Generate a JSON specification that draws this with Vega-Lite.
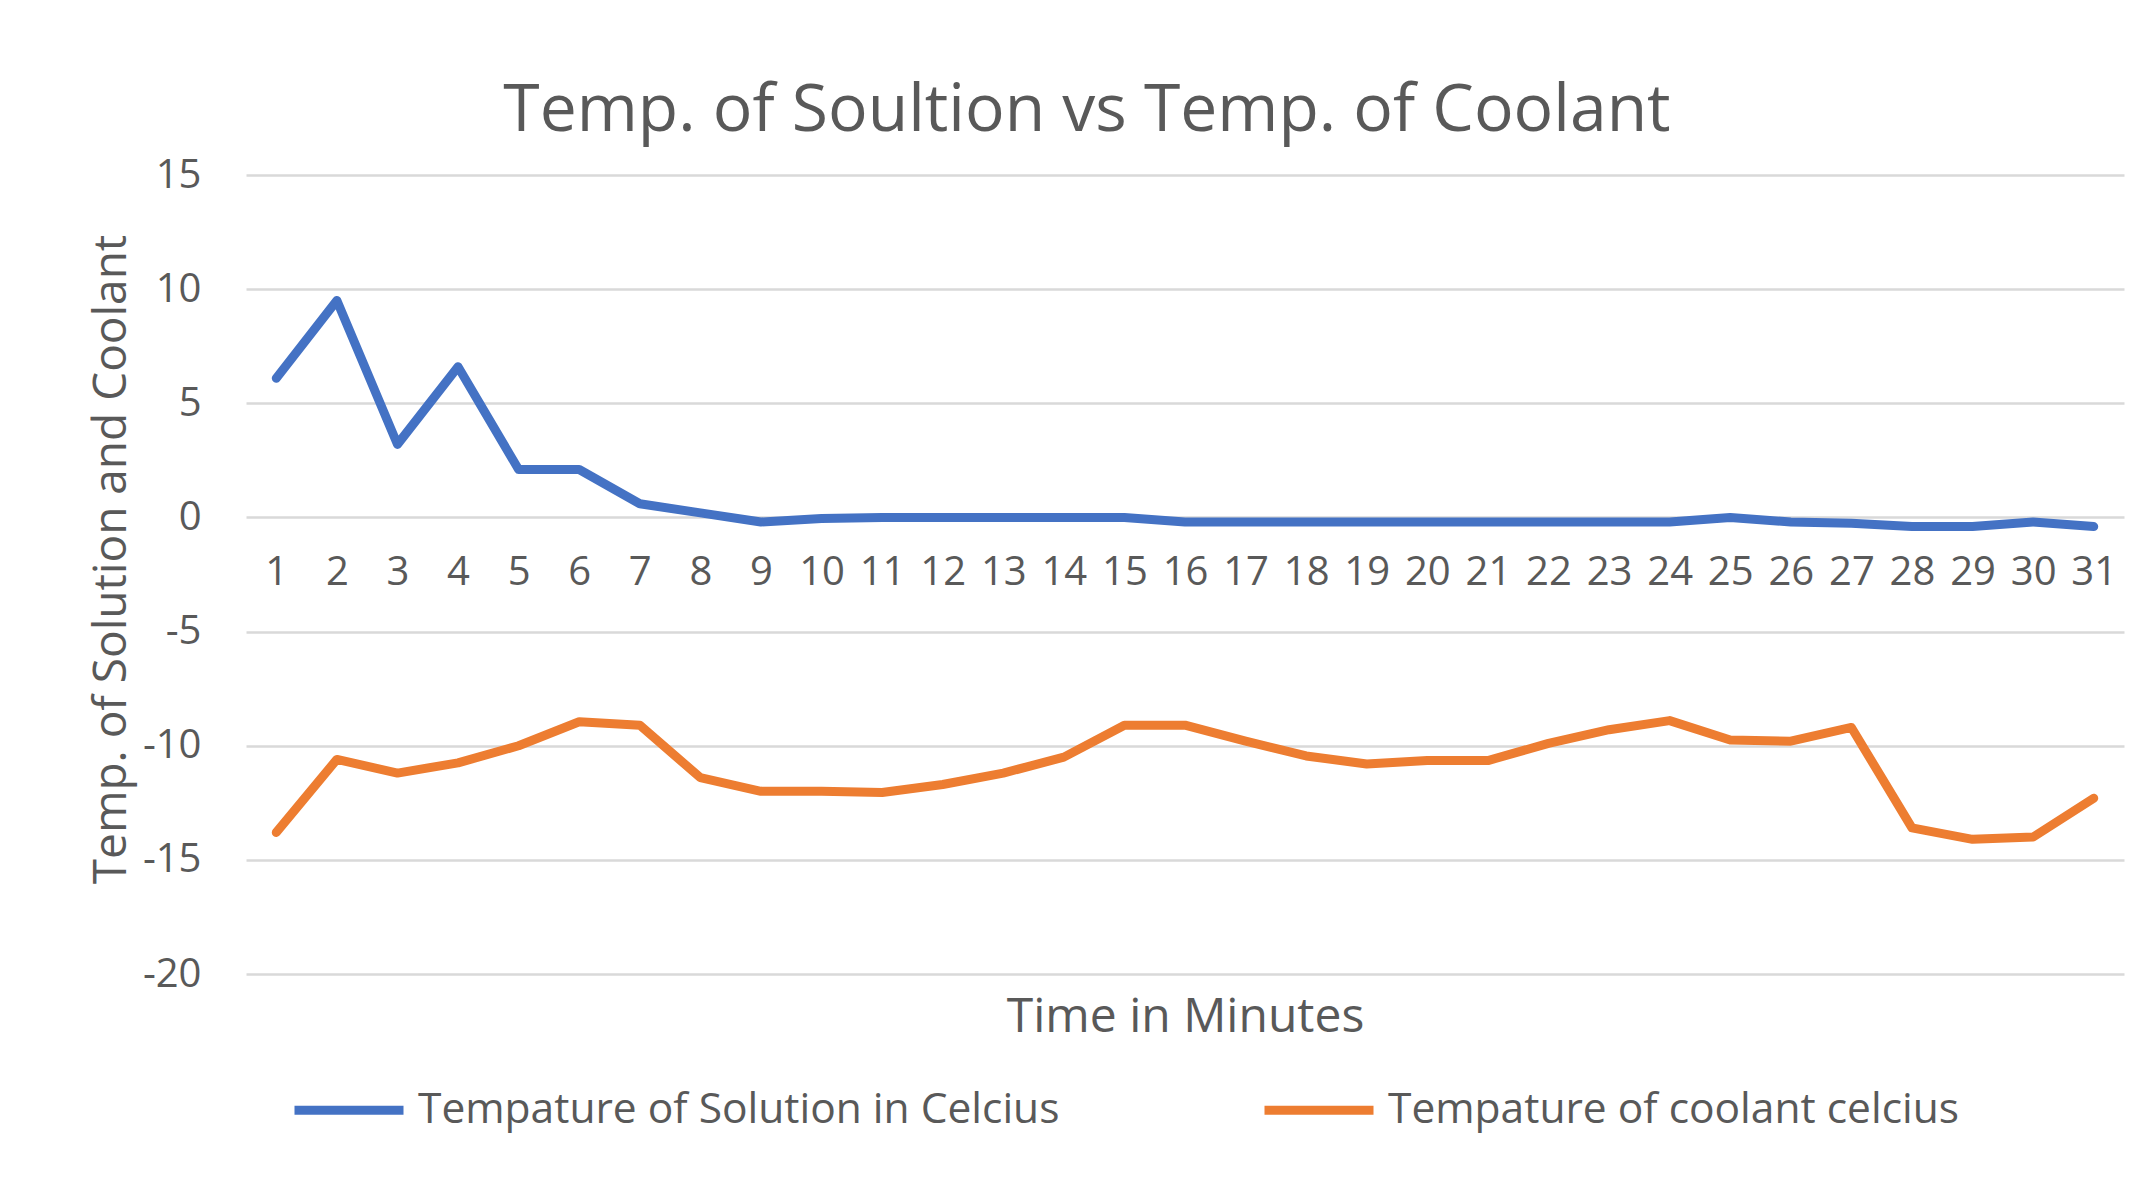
{
  "$schema": "https://vega.github.io/schema/vega-lite/v6.json",
  "autosize": "none",
  "width": 1878,
  "height": 799,
  "padding": {"left": 246, "top": 175, "right": 19, "bottom": 226},
  "background": "white",
  "config": {
    "view": {"stroke": null},
    "font": "Open Sans"
  },
  "title": {
    "text": "Temp. of Soultion vs Temp. of Coolant",
    "font": "Open Sans",
    "fontSize": 66,
    "fontWeight": "normal",
    "color": "#595959",
    "anchor": "middle",
    "baseline": "alphabetic",
    "offset": -42,
    "dx": -98
  },
  "data": {
    "values": [
      {"minute": 1, "series": "Tempature of Solution in Celcius", "temp": 6.1},
      {"minute": 2, "series": "Tempature of Solution in Celcius", "temp": 9.5},
      {"minute": 3, "series": "Tempature of Solution in Celcius", "temp": 3.2},
      {"minute": 4, "series": "Tempature of Solution in Celcius", "temp": 6.6},
      {"minute": 5, "series": "Tempature of Solution in Celcius", "temp": 2.1},
      {"minute": 6, "series": "Tempature of Solution in Celcius", "temp": 2.1},
      {"minute": 7, "series": "Tempature of Solution in Celcius", "temp": 0.6},
      {"minute": 8, "series": "Tempature of Solution in Celcius", "temp": 0.2},
      {"minute": 9, "series": "Tempature of Solution in Celcius", "temp": -0.2},
      {"minute": 10, "series": "Tempature of Solution in Celcius", "temp": -0.05},
      {"minute": 11, "series": "Tempature of Solution in Celcius", "temp": 0},
      {"minute": 12, "series": "Tempature of Solution in Celcius", "temp": 0},
      {"minute": 13, "series": "Tempature of Solution in Celcius", "temp": 0},
      {"minute": 14, "series": "Tempature of Solution in Celcius", "temp": 0},
      {"minute": 15, "series": "Tempature of Solution in Celcius", "temp": 0},
      {"minute": 16, "series": "Tempature of Solution in Celcius", "temp": -0.2},
      {"minute": 17, "series": "Tempature of Solution in Celcius", "temp": -0.2},
      {"minute": 18, "series": "Tempature of Solution in Celcius", "temp": -0.2},
      {"minute": 19, "series": "Tempature of Solution in Celcius", "temp": -0.2},
      {"minute": 20, "series": "Tempature of Solution in Celcius", "temp": -0.2},
      {"minute": 21, "series": "Tempature of Solution in Celcius", "temp": -0.2},
      {"minute": 22, "series": "Tempature of Solution in Celcius", "temp": -0.2},
      {"minute": 23, "series": "Tempature of Solution in Celcius", "temp": -0.2},
      {"minute": 24, "series": "Tempature of Solution in Celcius", "temp": -0.2},
      {"minute": 25, "series": "Tempature of Solution in Celcius", "temp": 0},
      {"minute": 26, "series": "Tempature of Solution in Celcius", "temp": -0.2},
      {"minute": 27, "series": "Tempature of Solution in Celcius", "temp": -0.25},
      {"minute": 28, "series": "Tempature of Solution in Celcius", "temp": -0.4},
      {"minute": 29, "series": "Tempature of Solution in Celcius", "temp": -0.4},
      {"minute": 30, "series": "Tempature of Solution in Celcius", "temp": -0.2},
      {"minute": 31, "series": "Tempature of Solution in Celcius", "temp": -0.4},
      {"minute": 1, "series": "Tempature of coolant celcius", "temp": -13.8},
      {"minute": 2, "series": "Tempature of coolant celcius", "temp": -10.6},
      {"minute": 3, "series": "Tempature of coolant celcius", "temp": -11.2},
      {"minute": 4, "series": "Tempature of coolant celcius", "temp": -10.75},
      {"minute": 5, "series": "Tempature of coolant celcius", "temp": -10.0},
      {"minute": 6, "series": "Tempature of coolant celcius", "temp": -8.95},
      {"minute": 7, "series": "Tempature of coolant celcius", "temp": -9.1},
      {"minute": 8, "series": "Tempature of coolant celcius", "temp": -11.4},
      {"minute": 9, "series": "Tempature of coolant celcius", "temp": -12.0},
      {"minute": 10, "series": "Tempature of coolant celcius", "temp": -12.0},
      {"minute": 11, "series": "Tempature of coolant celcius", "temp": -12.05},
      {"minute": 12, "series": "Tempature of coolant celcius", "temp": -11.7},
      {"minute": 13, "series": "Tempature of coolant celcius", "temp": -11.2},
      {"minute": 14, "series": "Tempature of coolant celcius", "temp": -10.5},
      {"minute": 15, "series": "Tempature of coolant celcius", "temp": -9.1},
      {"minute": 16, "series": "Tempature of coolant celcius", "temp": -9.1},
      {"minute": 17, "series": "Tempature of coolant celcius", "temp": -9.8},
      {"minute": 18, "series": "Tempature of coolant celcius", "temp": -10.45},
      {"minute": 19, "series": "Tempature of coolant celcius", "temp": -10.8},
      {"minute": 20, "series": "Tempature of coolant celcius", "temp": -10.65},
      {"minute": 21, "series": "Tempature of coolant celcius", "temp": -10.65},
      {"minute": 22, "series": "Tempature of coolant celcius", "temp": -9.9},
      {"minute": 23, "series": "Tempature of coolant celcius", "temp": -9.3},
      {"minute": 24, "series": "Tempature of coolant celcius", "temp": -8.9},
      {"minute": 25, "series": "Tempature of coolant celcius", "temp": -9.75},
      {"minute": 26, "series": "Tempature of coolant celcius", "temp": -9.8},
      {"minute": 27, "series": "Tempature of coolant celcius", "temp": -9.2},
      {"minute": 28, "series": "Tempature of coolant celcius", "temp": -13.6},
      {"minute": 29, "series": "Tempature of coolant celcius", "temp": -14.1},
      {"minute": 30, "series": "Tempature of coolant celcius", "temp": -14.0},
      {"minute": 31, "series": "Tempature of coolant celcius", "temp": -12.3}
    ]
  },
  "mark": {"type": "line", "strokeWidth": 9, "strokeJoin": "round", "strokeCap": "round"},
  "encoding": {
    "x": {
      "field": "minute",
      "type": "ordinal",
      "scale": {"type": "point", "padding": 0.5},
      "axis": {
        "orient": "bottom",
        "offset": -457.4,
        "domain": false,
        "ticks": false,
        "grid": false,
        "labelAngle": 0,
        "labelFont": "Open Sans",
        "labelFontSize": 40,
        "labelColor": "#595959",
        "labelPadding": 36,
        "title": "Time in Minutes",
        "titleFont": "Open Sans",
        "titleFontSize": 48,
        "titleFontWeight": "normal",
        "titleColor": "#595959",
        "titleBaseline": "alphabetic",
        "titleY": 515
      }
    },
    "y": {
      "field": "temp",
      "type": "quantitative",
      "scale": {"domain": [-20, 15], "nice": false, "zero": false},
      "axis": {
        "values": [-20, -15, -10, -5, 0, 5, 10, 15],
        "labelExpr": "datum.value < 0 ? '-' + abs(datum.value) : '' + datum.value",
        "domain": false,
        "ticks": false,
        "grid": true,
        "gridColor": "#d9d9d9",
        "gridWidth": 2.5,
        "labelFont": "Open Sans",
        "labelFontSize": 40,
        "labelColor": "#595959",
        "labelPadding": 45,
        "title": "Temp. of Solution and Coolant",
        "titleFont": "Open Sans",
        "titleFontSize": 46,
        "titleFontWeight": "normal",
        "titleColor": "#595959",
        "titleAngle": -90,
        "titleBaseline": "middle",
        "titleAlign": "center",
        "titleX": -135,
        "titleY": 384
      }
    },
    "color": {
      "field": "series",
      "type": "nominal",
      "scale": {
        "domain": ["Tempature of Solution in Celcius", "Tempature of coolant celcius"],
        "range": ["#4472C4", "#ED7D31"]
      },
      "legend": {
        "orient": "none",
        "legendX": 44,
        "legendY": 876,
        "direction": "horizontal",
        "title": null,
        "symbolType": "stroke",
        "symbolSize": 11881,
        "symbolStrokeWidth": 9,
        "labelFont": "Open Sans",
        "labelFontSize": 42.5,
        "labelColor": "#595959",
        "labelLimit": 2000,
        "labelOffset": 10,
        "columnPadding": 186
      }
    }
  }
}
